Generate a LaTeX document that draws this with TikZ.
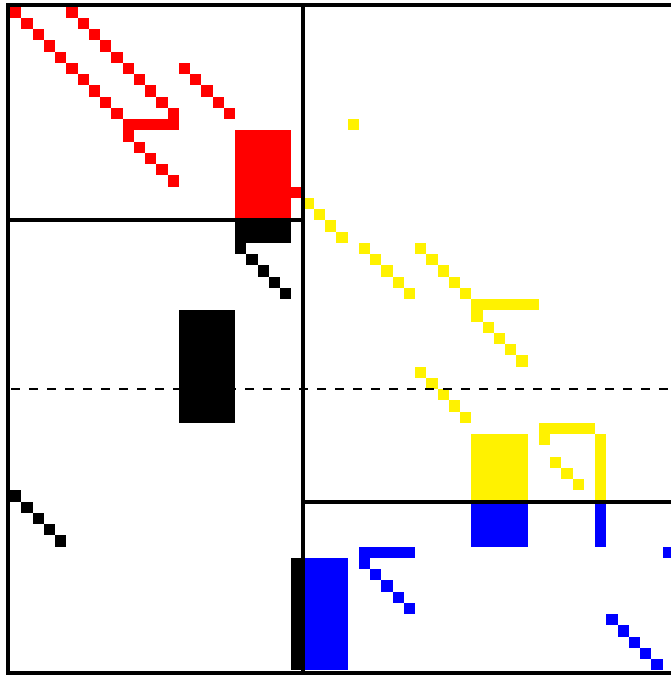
\documentclass[tikz,border=0pt]{standalone}
\usepackage{tikz}
\usetikzlibrary{calc}

\begin{document}
\begin{tikzpicture}[x=8.4375pt,y=-8.4375pt,
        frame/.style={line width=3pt},
        split/.style={line width=1.8pt,dash pattern=on 6.75pt off 6.75pt}]
      \useasboundingbox (-0.889,-0.596) rectangle (58.667,59.58);
      % red part
      \foreach \i in {0,...,9} {
        \fill[red] (\i,\i) rectangle ++(1,1);
        \fill[red] (5+\i,\i) rectangle ++(1,1);
      }
      \foreach \i in {0,...,4} {
        \fill[red] (10+\i,11+\i) rectangle ++(1,1);
        \fill[red] (15+\i,5+\i) rectangle ++(1,1);
      }
      \fill[red] (10,10) rectangle (15,11);
      \fill[red] (20,11) rectangle (25,19);
      \fill[red] (25,16) rectangle ++(1,1);
      % black part
      \fill[black] (20,19) rectangle (25,21);
      \fill[black] (15,27) rectangle (20,37);
      \fill[black] (25,49) rectangle (26,59);
      \foreach \i in {0,...,4} {
        \fill[black] (20+\i,21+\i) rectangle ++(1,1);
        \fill[black] (\i,43+\i) rectangle ++(1,1);
      }
      % yellow part
      \fill[yellow] (30,10) rectangle ++(1,1);
      \foreach \i in {0,...,3}
        \fill[yellow] (26+\i,17+\i) rectangle ++(1,1);
      \foreach \i in {0,...,4} {
        \fill[yellow] (31+\i,21+\i) rectangle ++(1,1);
        \fill[yellow] (36+\i,21+\i) rectangle ++(1,1);
        \fill[yellow] (41+\i,27+\i) rectangle ++(1,1);
        \fill[yellow] (36+\i,32+\i) rectangle ++(1,1);
      }
      \foreach \i in {0,...,2}
        \fill[yellow] (48+\i,40+\i) rectangle ++(1,1);
      \fill[yellow] (41,26) rectangle (47,27);
      \fill[yellow] (41,38) rectangle (46,44);
      \fill[yellow] (47,37) rectangle (52,38);
      \fill[yellow] (47,38) rectangle ++(1,1);
      \fill[yellow] (52,38) rectangle (53,44);
      % blue part
      \fill[blue] (41,44) rectangle (46,48);
      \fill[blue] (52,44) rectangle (53,48);
      \fill[blue] (58,48) rectangle ++(1,1);
      \fill[blue] (31,48) rectangle (36,49);
      \fill[blue] (26,49) rectangle (30,59);
      \foreach \i in {0,...,4} {
        \fill[blue] (31+\i,49+\i) rectangle ++(1,1);
        \fill[blue] (53+\i,54+\i) rectangle ++(1,1);
      }
      % block lines
      \coordinate (tl) at (-0.17,-0.17);
      \coordinate (br) at (59.2,59.2);
      \draw[frame] (tl) rectangle (br);
      \draw[frame] (26,-0.17) -- (26,59.2);
      \draw[frame] (-0.17,19) -- (26,19);
      \draw[frame] (26,44) -- (59.2,44);
      \draw[split] (0.09,34) -- (59.2,34);
    \end{tikzpicture}
\end{document}
